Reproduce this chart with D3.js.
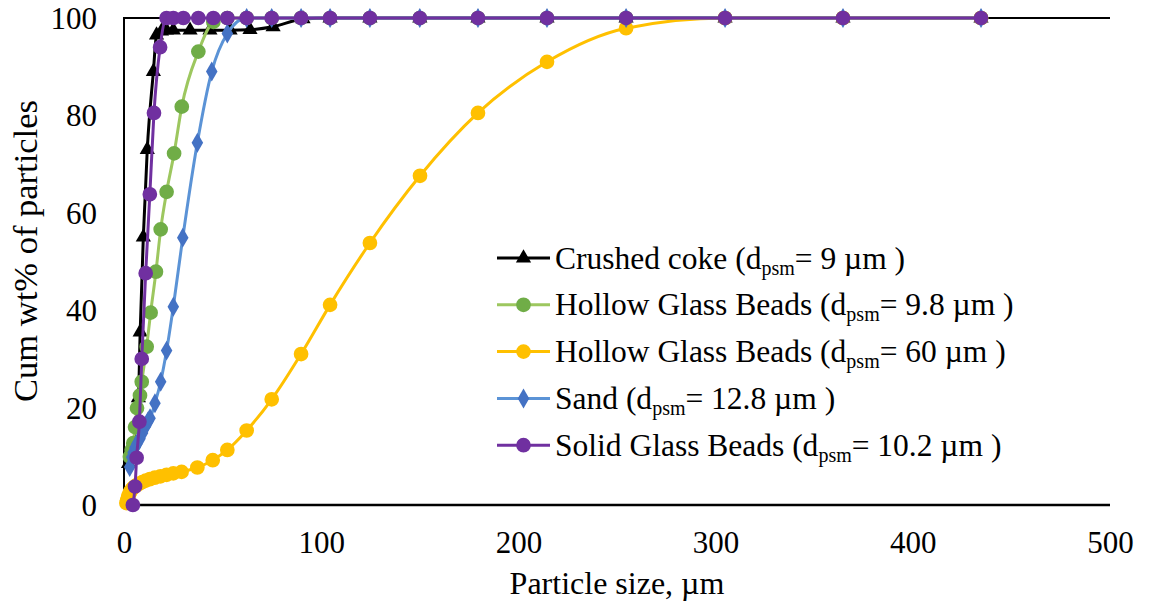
<!DOCTYPE html>
<html>
<head>
<meta charset="utf-8">
<script src="https://cdn.jsdelivr.net/npm/d3@7/dist/d3.min.js"></script>
<style>
  html, body { margin: 0; padding: 0; background: #fff; }
  svg { display: block; }
  text { font-family: "Liberation Serif", "Times New Roman", serif; fill: #000; }
</style>
</head>
<body>
<svg id="chart" width="1150" height="606"></svg>
<script>
// Cumulative size distributions (particle size in µm, cumulative wt%)
const cokeSize  = [2.3, 7.3, 8.2, 9.8, 11.8, 14.9, 16.5, 19, 21.5, 25, 33.5, 43.6, 53.8, 63.9, 75.6, 90.8, 104.5, 124.7, 150, 179.5, 214.5, 254.6, 304.8, 364.6, 434.6];
const cokeCum   = [8.5, 22, 35.5, 55, 73, 89, 96.5, 97.3, 97.5, 97.5, 97.5, 97.5, 97.5, 97.6, 98.2, 99.8, 100, 100, 100, 100, 100, 100, 100, 100, 100];

const hgb98Size = [3.0, 3.9, 4.7, 5.6, 6.6, 8.1, 9.0, 11.5, 13.5, 16.2, 18.6, 21.6, 25.4, 29.3, 37.7, 45.3, 52.4, 62.2, 74.9, 89.8, 104.5, 124.7, 150, 179.5, 214.5, 254.6, 304.8, 364.6, 434.6];
const hgb98Cum  = [9.9, 11.3, 12.7, 16, 19.9, 22.5, 25.3, 32.5, 39.5, 47.9, 56.6, 64.3, 72.2, 81.8, 93.1, 99.2, 100, 100, 100, 100, 100, 100, 100, 100, 100, 100, 100, 100, 100];

const hgb60Size = [1.2, 1.6, 1.9, 2.3, 2.8, 3.3, 3.9, 4.6, 5.5, 6.5, 7.8, 9.3, 11, 13.1, 15.6, 18.5, 21.6, 25, 29.2, 37.2, 45, 52.4, 62.2, 74.9, 89.8, 104.5, 124.7, 150.1, 179.5, 214.5, 254.6, 304.8, 364.6, 434.6];
const hgb60Cum  = [0.4, 0.9, 1.4, 1.9, 2.4, 2.8, 3.2, 3.5, 3.8, 4.1, 4.4, 4.7, 5.0, 5.3, 5.6, 5.9, 6.2, 6.5, 6.8, 7.7, 9.2, 11.3, 15.3, 21.7, 31.0, 41.1, 53.8, 67.6, 80.5, 91.0, 97.9, 100, 100, 100];

const sandSize  = [2.9, 3.9, 4.6, 5.6, 6.6, 8.1, 9.4, 11, 12.2, 13.2, 15.7, 18.6, 21.6, 25, 29.8, 37.2, 44.5, 52.4, 62.2, 74.9, 89.8, 104.5, 124.7, 150, 179.5, 214.5, 254.6, 304.8, 364.6, 434.6];
const sandCum   = [7.8, 9.8, 10.8, 11.8, 12.6, 13.6, 14.8, 16.2, 17.2, 17.8, 20.9, 25.3, 31.7, 40.7, 54.9, 74.4, 89, 96.8, 100, 100, 100, 100, 100, 100, 100, 100, 100, 100, 100, 100];

const sgbSize   = [4.5, 5.6, 6.4, 7.8, 9.0, 11.0, 13.1, 15.2, 18.3, 21.6, 25, 30.1, 37.7, 45.3, 52.4, 62.2, 74.9, 89.8, 104.5, 124.7, 150, 179.5, 214.5, 254.6, 304.8, 364.6, 434.6];
const sgbCum    = [0, 3.8, 9.7, 17.1, 30.0, 47.6, 63.8, 80.5, 94.0, 100, 100, 100, 100, 100, 100, 100, 100, 100, 100, 100, 100, 100, 100, 100, 100, 100, 100];

const xTicks = [0, 100, 200, 300, 400, 500];
const yTicks = [0, 20, 40, 60, 80, 100];

const seriesNames = ["Crushed coke", "Hollow Glass Beads", "Hollow Glass Beads", "Sand", "Solid Glass Beads"];
const seriesDpsm  = ["9", "9.8", "60", "12.8", "10.2"];

const series = [
  { size: cokeSize,  cum: cokeCum,  line: "#000000", fill: "#000000", shape: "triangle" },
  { size: hgb98Size, cum: hgb98Cum, line: "#9dc75f", fill: "#70ad47", shape: "circle" },
  { size: hgb60Size, cum: hgb60Cum, line: "#ffc000", fill: "#ffc000", shape: "circle" },
  { size: sandSize,  cum: sandCum,  line: "#5b93d6", fill: "#4472c4", shape: "diamond" },
  { size: sgbSize,   cum: sgbCum,   line: "#7030a0", fill: "#7030a0", shape: "circle" }
].map((s, i) => ({ ...s, name: seriesNames[i], dpsm: seriesDpsm[i] }));

const svg = d3.select("#chart");
const plot = { left: 124, right: 1110, top: 18, bottom: 505 };

const x = d3.scaleLinear().domain([0, 500]).range([plot.left, plot.right]);
const y = d3.scaleLinear().domain([0, 100]).range([plot.bottom, plot.top]);

const fontSize = 31;

// axes: labels only, lines drawn separately
const xAxis = svg.append("g")
  .attr("transform", `translate(0,${plot.bottom})`)
  .call(d3.axisBottom(x).tickValues(xTicks).tickSize(0).tickPadding(0));
xAxis.select(".domain").remove();
xAxis.selectAll("text")
  .attr("font-size", fontSize)
  .attr("font-family", "Liberation Serif")
  .attr("dy", null)
  .attr("y", 48)
  .attr("fill", "#000");

const yAxis = svg.append("g")
  .attr("transform", `translate(${plot.left},0)`)
  .call(d3.axisLeft(y).tickValues(yTicks).tickSize(0).tickPadding(0));
yAxis.select(".domain").remove();
yAxis.selectAll("text")
  .attr("font-size", fontSize)
  .attr("font-family", "Liberation Serif")
  .attr("dy", null)
  .attr("x", -27)
  .attr("y", 10.5)
  .attr("fill", "#000");

// plot frame: left, bottom and top edges
const frame = svg.append("g").attr("stroke", "#000").attr("fill", "none");
frame.append("line").attr("x1", plot.left).attr("x2", plot.left).attr("y1", plot.top - 1).attr("y2", plot.bottom + 1).attr("stroke-width", 2);
frame.append("line").attr("x1", plot.left - 1).attr("x2", plot.right).attr("y1", plot.bottom).attr("y2", plot.bottom).attr("stroke-width", 2.5);
frame.append("line").attr("x1", plot.left - 1).attr("x2", plot.right).attr("y1", plot.top).attr("y2", plot.top).attr("stroke-width", 2);

// axis titles
svg.append("text")
  .attr("x", (plot.left + plot.right) / 2)
  .attr("y", 594)
  .attr("text-anchor", "middle")
  .attr("font-size", 32)
  .text("Particle size, µm");

svg.append("text")
  .attr("transform", "translate(37,251) rotate(-90)")
  .attr("text-anchor", "middle")
  .attr("font-size", 34.5)
  .text("Cum wt% of particles");

// marker symbols
function markerPath(shape) {
  if (shape === "triangle") return d3.symbol(d3.symbolTriangle, 100)();
  if (shape === "diamond") return d3.symbol(d3.symbolDiamond, 115)();
  return d3.symbol(d3.symbolCircle, 170)();
}

const line = d3.line()
  .x((d) => x(d[0]))
  .y((d) => y(d[1]))
  .curve(d3.curveMonotoneX);

const layer = svg.append("g");
series.forEach((s) => {
  const pts = s.size.map((v, i) => [v, s.cum[i]]);
  const g = layer.append("g");
  g.append("path")
    .attr("d", line(pts))
    .attr("fill", "none")
    .attr("stroke", s.line)
    .attr("stroke-width", 3)
    .attr("stroke-linejoin", "round");
  g.selectAll("path.m")
    .data(pts)
    .join("path")
    .attr("class", "m")
    .attr("d", markerPath(s.shape))
    .attr("transform", (d) => `translate(${x(d[0])},${y(d[1])})`)
    .attr("fill", s.fill);
});

// legend
const legend = svg.append("g").attr("transform", "translate(497,258)");
series.forEach((s, i) => {
  const row = legend.append("g").attr("transform", `translate(0,${i * 46.8})`);
  row.append("line")
    .attr("x1", 0).attr("x2", 53).attr("y1", 0).attr("y2", 0)
    .attr("stroke", s.line).attr("stroke-width", 3);
  row.append("path")
    .attr("d", markerPath(s.shape))
    .attr("transform", "translate(26.5,0)")
    .attr("fill", s.fill);
  const t = row.append("text")
    .attr("x", 58)
    .attr("y", 10.5)
    .attr("font-size", 31.5);
  t.append("tspan").text(`${s.name} (d`);
  t.append("tspan").attr("font-size", 20).attr("dy", 6).text("psm");
  t.append("tspan").attr("dy", -6).text(`= ${s.dpsm} µm )`);
});
</script>
</body>
</html>
